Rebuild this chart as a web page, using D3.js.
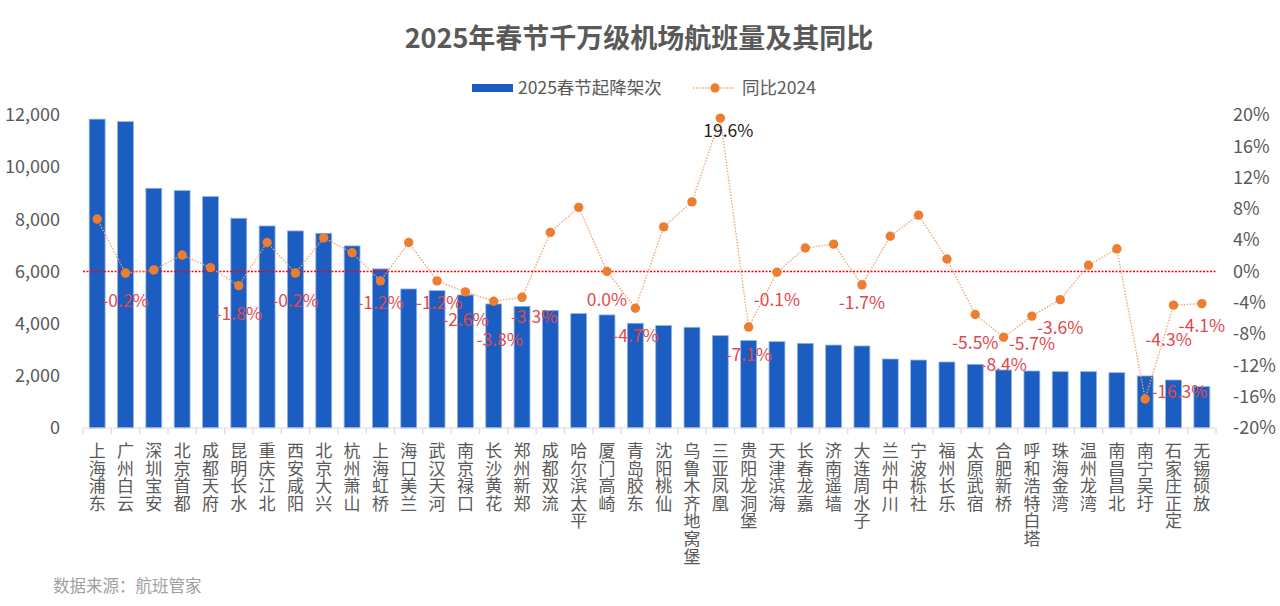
<!DOCTYPE html>
<html>
<head>
<meta charset="utf-8">
<script src="https://cdn.jsdelivr.net/npm/d3@7"></script>
<style>
    body { margin: 0; background: #fff; }
    text { font-family: "Noto Sans CJK SC", "Noto Sans", sans-serif; }
    .xlab { writing-mode: vertical-rl; text-orientation: upright; }
</style>
</head>
<body>
<div id="chart"></div>
<script>
// airports, in chart order
var airports = ["上海浦东", "广州白云", "深圳宝安", "北京首都", "成都天府", "昆明长水", "重庆江北", "西安咸阳",
    "北京大兴", "杭州萧山", "上海虹桥", "海口美兰", "武汉天河", "南京禄口", "长沙黄花", "郑州新郑",
    "成都双流", "哈尔滨太平", "厦门高崎", "青岛胶东", "沈阳桃仙", "乌鲁木齐地窝堡", "三亚凤凰", "贵阳龙洞堡",
    "天津滨海", "长春龙嘉", "济南遥墙", "大连周水子", "兰州中川", "宁波栎社", "福州长乐", "太原武宿",
    "合肥新桥", "呼和浩特白塔", "珠海金湾", "温州龙湾", "南昌昌北", "南宁吴圩", "石家庄正定", "无锡硕放"];

// 2025春节起降架次
var flights = [11840, 11745, 9190, 9100, 8870, 8040, 7745, 7555,
    7465, 6980, 6100, 5330, 5265, 5100, 4755, 4665,
    4500, 4385, 4335, 4015, 3925, 3860, 3540, 3350,
    3310, 3245, 3180, 3145, 2645, 2605, 2530, 2440,
    2225, 2185, 2160, 2160, 2120, 1995, 1840, 1585];

// 同比2024 (%)
var yoy = [6.7, -0.2, 0.2, 2.1, 0.5, -1.8, 3.7, -0.2,
    4.3, 2.4, -1.2, 3.7, -1.2, -2.6, -3.8, -3.3,
    5.0, 8.2, 0.0, -4.7, 5.7, 8.9, 19.6, -7.1,
    -0.1, 3.0, 3.5, -1.7, 4.5, 7.2, 1.6, -5.5,
    -8.4, -5.7, -3.6, 0.8, 2.9, -16.3, -4.3, -4.1];

var leftTicks = [0, 2000, 4000, 6000, 8000, 10000, 12000];
var rightTicks = [-20, -16, -12, -8, -4, 0, 4, 8, 12, 16, 20];

// label tweaks (dragged by hand in the original)
var labelNudge = {
    "上海虹桥": [0, -6], "武汉天河": [2, -6], "长沙黄花": [6, 11], "郑州新郑": [12, -8],
    "大连周水子": [0, -10], "石家庄正定": [-5, 7], "无锡硕放": [0, -6]
};

var data = airports.map(function (d, i) {
    return { name: d, flights: flights[i], yoy: yoy[i] };
});

var W = 1280, H = 606;
var margin = { top: 115, right: 64, bottom: 178, left: 83 };
var width = W - margin.left - margin.right;
var height = H - margin.top - margin.bottom;

var svg = d3.select("#chart").append("svg")
    .attr("width", W)
    .attr("height", H);

var g = svg.append("g")
    .attr("transform", "translate(" + margin.left + "," + margin.top + ")");

var x = d3.scaleBand()
    .domain(airports)
    .range([0, width])
    .paddingInner(0.44)
    .paddingOuter(0.22);

var y = d3.scaleLinear()
    .domain([0, 12000])
    .range([height, 0]);

var y2 = d3.scaleLinear()
    .domain([-20, 20])
    .range([height, 0]);

// title
svg.append("text")
    .attr("x", 639)
    .attr("y", 48)
    .attr("text-anchor", "middle")
    .attr("font-size", "27px")
    .attr("font-weight", "bold")
    .attr("fill", "#595959")
    .text("2025年春节千万级机场航班量及其同比");

// legend
var legend = svg.append("g").attr("transform", "translate(0,88)");
legend.append("rect")
    .attr("x", 472).attr("y", -4).attr("width", 41).attr("height", 8)
    .attr("fill", "#1B5DC1");
legend.append("text")
    .attr("x", 518).attr("y", 6)
    .attr("font-size", "17.5px").attr("fill", "#595959")
    .text("2025春节起降架次");
legend.append("line")
    .attr("x1", 693).attr("x2", 735).attr("y1", 0).attr("y2", 0)
    .attr("stroke", "#F3A36A").attr("stroke-width", 1.3)
    .attr("stroke-dasharray", "1.5,1.5");
legend.append("circle")
    .attr("cx", 715).attr("cy", 0).attr("r", 4.7)
    .attr("fill", "#ED7D31");
legend.append("text")
    .attr("x", 742).attr("y", 6)
    .attr("font-size", "17.5px").attr("fill", "#595959")
    .text("同比2024");

// left axis
var yAxis = d3.axisLeft(y)
    .tickValues(leftTicks)
    .tickSize(0)
    .tickPadding(23)
    .tickFormat(d3.format(","));
g.append("g")
    .attr("class", "y-axis")
    .call(yAxis)
    .call(function (s) { s.select(".domain").remove(); })
    .selectAll("text")
    .attr("font-size", "18px")
    .attr("fill", "#595959");

// right axis
var yAxis2 = d3.axisRight(y2)
    .tickValues(rightTicks)
    .tickSize(0)
    .tickPadding(17)
    .tickFormat(function (d) { return String(d).replace("−", "-") + "%"; });
g.append("g")
    .attr("class", "y-axis2")
    .attr("transform", "translate(" + width + ",0)")
    .call(yAxis2)
    .call(function (s) { s.select(".domain").remove(); })
    .selectAll("text")
    .attr("font-size", "18px")
    .attr("fill", "#595959");

// bars
g.selectAll("rect.bar")
    .data(data)
    .enter()
    .append("rect")
    .attr("class", "bar")
    .attr("x", function (d) { return x(d.name); })
    .attr("y", function (d) { return y(d.flights); })
    .attr("width", x.bandwidth())
    .attr("height", function (d) { return height - y(d.flights); })
    .attr("fill", "#1B5DC1")
    .attr("stroke", "#8EB0EA")
    .attr("stroke-width", 0.8);

// x axis line + ticks between categories
g.append("line")
    .attr("x1", 0).attr("x2", width)
    .attr("y1", height).attr("y2", height)
    .attr("stroke", "#D9D9D9").attr("stroke-width", 1.2);
var step = x.step();
g.selectAll("line.tick-x")
    .data(d3.range(airports.length + 1))
    .enter()
    .append("line")
    .attr("class", "tick-x")
    .attr("x1", function (i) { return i * step; })
    .attr("x2", function (i) { return i * step; })
    .attr("y1", height).attr("y2", height + 6)
    .attr("stroke", "#D9D9D9").attr("stroke-width", 1.2);

// vertical category labels
g.selectAll("text.xlab")
    .data(data)
    .enter()
    .append("text")
    .attr("class", "xlab")
    .attr("font-size", "17px")
    .attr("fill", "#595959")
    .attr("letter-spacing", "0.6px")
    .attr("x", function (d) { return x(d.name) + x.bandwidth() / 2; })
    .attr("y", height + 14)
    .text(function (d) { return d.name; });

// zero line of the right axis
g.append("line")
    .attr("x1", 0).attr("x2", width)
    .attr("y1", y2(0)).attr("y2", y2(0))
    .attr("stroke", "#FF0000").attr("stroke-width", 1.4)
    .attr("stroke-dasharray", "2,1.5");

// yoy line
var cx = function (d) { return x(d.name) + x.bandwidth() / 2; };
var line = d3.line()
    .x(cx)
    .y(function (d) { return y2(d.yoy); });

g.append("path")
    .datum(data)
    .attr("d", line)
    .attr("fill", "none")
    .attr("stroke", "#F3A36A")
    .attr("stroke-width", 1.3)
    .attr("stroke-dasharray", "1.5,1.5");

g.selectAll("circle.dot")
    .data(data)
    .enter()
    .append("circle")
    .attr("class", "dot")
    .attr("cx", cx)
    .attr("cy", function (d) { return y2(d.yoy); })
    .attr("r", 4.7)
    .attr("fill", "#ED7D31");

// data labels: non-positive values in red, the max in black
var maxVal = d3.max(yoy), minVal = d3.min(yoy);
var labelData = data.filter(function (d) { return d.yoy <= 0 || d.yoy == maxVal; });

g.selectAll("text.dlab")
    .data(labelData)
    .enter()
    .append("text")
    .attr("class", "dlab")
    .attr("font-size", "17.5px")
    .attr("fill", function (d) { return d.yoy == maxVal ? "#222" : "#E0484C"; })
    .attr("text-anchor", function (d) { return d.yoy == minVal ? "start" : "middle"; })
    .attr("x", function (d) {
        var n = labelNudge[d.name] || [0, 0];
        if (d.yoy == minVal) return cx(d) + 6;
        if (d.yoy == maxVal) return cx(d) + 8;
        return cx(d) + n[0];
    })
    .attr("y", function (d) {
        var n = labelNudge[d.name] || [0, 0];
        if (d.yoy == minVal) return y2(d.yoy) - 1;
        if (d.yoy == maxVal) return y2(d.yoy) + 19;
        return y2(d.yoy) + 34 + n[1];
    })
    .text(function (d) { return d.yoy.toFixed(1) + "%"; });

// source
svg.append("text")
    .attr("x", 53)
    .attr("y", 592)
    .attr("font-size", "16.5px")
    .attr("fill", "#A0A0A0")
    .text("数据来源：航班管家");
</script>
</body>
</html>
